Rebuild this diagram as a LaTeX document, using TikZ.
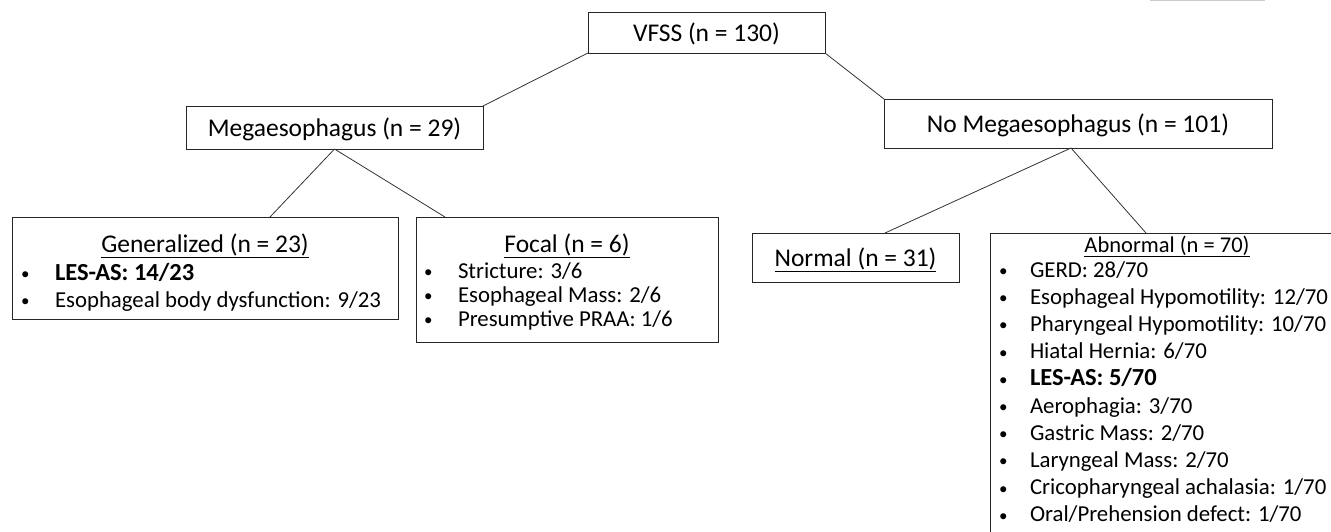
\documentclass[tikz,border=0pt]{standalone}
\usepackage{fontspec}
\setmainfont{Carlito}
\newcommand{\bul}[1]{\makebox[#1][l]{\fontsize{17}{17}\selectfont\mdseries\raisebox{0.5pt}{•}}}
\begin{document}
\begin{tikzpicture}[x=1pt,y=-1pt,
  box/.style={draw=black!85, line width=1pt, inner sep=0pt, outer sep=0pt},
  conn/.style={draw=black!80, line width=0.8pt},
  txt/.style={inner sep=0pt, outer sep=0pt, font=\fontsize{25.5}{28}\selectfont},
  stxt/.style={inner sep=0pt, outer sep=0pt, font=\fontsize{22.5}{26}\selectfont},
  ltxt/.style={inner sep=0pt, outer sep=0pt, font=\fontsize{22.8}{26}\selectfont},
  btxt/.style={inner sep=0pt, outer sep=0pt, font=\fontsize{24.5}{28}\selectfont\bfseries},
  itm/.style={ltxt, anchor=base west},
  bitm/.style={btxt, anchor=base west}]
\useasboundingbox (0,0) rectangle (1331,531);
% artefact line at top right
\draw[black!20, line width=1.5pt] (1150,0.5) -- (1265,0.5);
% boxes
\node[box, minimum width=237pt, minimum height=41pt] (vfss) at (706.5,32.5) {};
\node[box, minimum width=297pt, minimum height=43pt] (mega) at (334.5,127.5) {};
\node[box, minimum width=388pt, minimum height=49pt] (nomega) at (1078,123.5) {};
\node[box, minimum width=386pt, minimum height=102pt] (gen) at (205,268) {};
\node[box, minimum width=302pt, minimum height=125pt] (focal) at (567,279.5) {};
\node[box, minimum width=207pt, minimum height=49pt] (normal) at (855.5,257.5) {};
\node[box, minimum width=370pt, minimum height=330pt] (abn) at (1175,398) {};
% titles
\node[txt, anchor=base] (vfsst) at (706.5,41) {VFSS (n = 130)};
\node[txt, anchor=base] (megat) at (334.5,136) {Megaesophagus (n = 29)};
\node[txt, anchor=base] (nomegat) at (1078,132) {No Megaesophagus (n = 101)};
\node[txt, anchor=base] (gent) at (205,252) {\underline{Generalized (n = 23)}};
\node[txt, anchor=base] (focalt) at (567,252) {\underline{Focal (n = 6)}};
\node[txt, anchor=base] (normalt) at (855.5,266) {\underline{Normal (n = 31)}};
\node[stxt, anchor=base] (abnt) at (1167,252) {\underline{Abnormal (n = 70)}};
% generalized items
\node[bitm] (g1) at (21,280) {\bul{34pt}LES-AS: 14/23};
\node[itm] (g2) at (21,307) {\bul{34pt}Esophageal body dysfunction: 9/23};
% focal items
\node[itm] (f1) at (424,278) {\bul{34pt}Stricture: 3/6};
\node[itm] (f2) at (424,302) {\bul{34pt}Esophageal Mass: 2/6};
\node[itm] (f3) at (424,326) {\bul{34pt}Presumptive PRAA: 1/6};
% abnormal items
\node[itm] (a1) at (999,277) {\bul{31pt}GERD: 28/70};
\node[itm] (a2) at (999,304.2) {\bul{31pt}Esophageal Hypomotility: 12/70};
\node[itm] (a3) at (999,331.4) {\bul{31pt}Pharyngeal Hypomotility: 10/70};
\node[itm] (a4) at (999,358.6) {\bul{31pt}Hiatal Hernia: 6/70};
\node[bitm] (a5) at (999,385.8) {\bul{31pt}LES-AS: 5/70};
\node[itm] (a6) at (999,413) {\bul{31pt}Aerophagia: 3/70};
\node[itm] (a7) at (999,440.2) {\bul{31pt}Gastric Mass: 2/70};
\node[itm] (a8) at (999,467.4) {\bul{31pt}Laryngeal Mass: 2/70};
\node[itm] (a9) at (999,494.6) {\bul{31pt}Cricopharyngeal achalasia: 1/70};
\node[itm] (a10) at (999,521.8) {\bul{31pt}Oral/Prehension defect: 1/70};
% connectors
\draw[conn] (vfss.south west) -- (mega.north east);
\draw[conn] (vfss.south east) -- (nomega.north west);
\draw[conn] (mega.south) -- ([xshift=258pt]gen.north west);
\draw[conn] (mega.south) -- ([xshift=29pt]focal.north west);
\draw[conn] ([xshift=-7pt]nomega.south) -- ([xshift=133pt]normal.north west);
\draw[conn] ([xshift=-7pt]nomega.south) -- ([xshift=156pt]abn.north west);
\end{tikzpicture}
\end{document}
